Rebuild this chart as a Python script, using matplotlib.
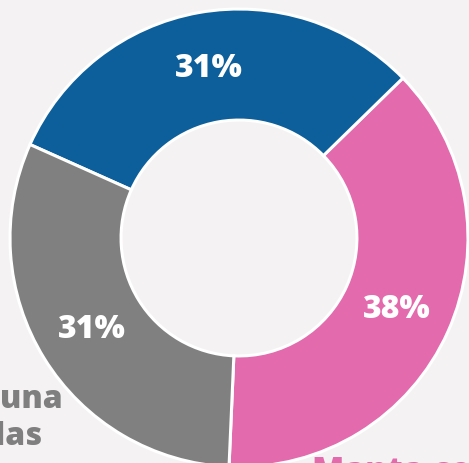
import matplotlib
matplotlib.use("Agg")
import matplotlib.pyplot as plt

# ===============================
# DATA
# ===============================
categories = ["Manta con", "Otra", "Ninguna\nde las"]
values = [38, 31, 31]
colors = ["#e26aad", "#0c5f9a", "#808080"]
label_colors = ["#e26aad", None, "#7f7f7f"]

BG = "#f4f2f2"
plt.rcParams["font.family"] = ["Open Sans", "DejaVu Sans"]

# ===============================
# DONUT
# ===============================
fig = plt.figure(figsize=(4.69, 4.64), dpi=100, facecolor=BG)
ax = fig.add_axes([0, 0, 1, 1])
ax.set_facecolor(BG)

wedges, texts, autotexts = ax.pie(
    values,
    colors=colors,
    startangle=-92.5,
    counterclock=True,
    radius=1,
    autopct="%.0f%%",
    pctdistance=0.755,
    wedgeprops=dict(width=0.485, edgecolor="white", linewidth=2.2),
)
for t in autotexts:
    t.set_color("white")
    t.set_fontsize(23)
    t.set_fontweight("heavy")

# outer category labels (cut off by the frame)
line1, line2 = categories[2].split("\n")
ax.text(-0.769, -0.738, line1, ha="right", va="baseline",
        fontsize=23, fontweight="heavy", color=label_colors[2])
ax.text(-0.860, -0.898, line2, ha="right", va="baseline",
        fontsize=23, fontweight="heavy", color=label_colors[2])
ax.text(0.319, -1.057, categories[0], ha="left", va="baseline",
        fontsize=24, fontweight="heavy", color=label_colors[0])

ax.set_xlim(-1.0437, 1.0044)
ax.set_ylim(-0.9825, 1.0437)
ax.set_aspect("auto")
ax.axis("off")

fig.savefig("out.png", dpi=100, facecolor=BG)
